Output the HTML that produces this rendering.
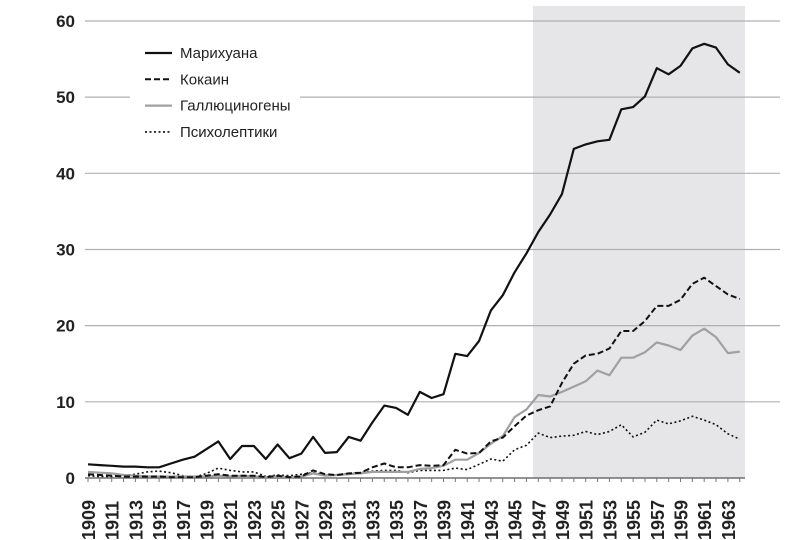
<!DOCTYPE html>
<html><head><meta charset="utf-8"><style>
body{margin:0;background:#fff;}
svg{display:block;font-family:"Liberation Sans",sans-serif;}
</style></head><body>
<svg id="chart" width="800" height="540" viewBox="0 0 800 540"></svg>
<script>
const years=[];for(let y=1909;y<=1964;y++)years.push(y);
const marijuana=[1.8,1.7,1.6,1.5,1.5,1.4,1.4,1.9,2.4,2.8,3.8,4.8,2.5,4.2,4.2,2.5,4.4,2.6,3.2,5.4,3.3,3.4,5.4,4.9,7.3,9.5,9.2,8.3,11.3,10.5,11,16.3,16,18,22,24,27,29.5,32.3,34.6,37.3,43.2,43.8,44.2,44.4,48.4,48.7,50.1,53.8,53,54.1,56.4,57,56.5,54.3,53.2];
const cocaine=[0.5,0.4,0.3,0.2,0.2,0.2,0.2,0.1,0.1,0.1,0.3,0.5,0.3,0.3,0.3,0.1,0.3,0.1,0.2,1,0.5,0.4,0.6,0.7,1.4,1.9,1.4,1.4,1.7,1.6,1.7,3.7,3.2,3.3,4.8,5.3,6.8,8.2,8.9,9.4,12.5,15,16.1,16.3,17,19.3,19.3,20.6,22.6,22.6,23.4,25.5,26.3,25.2,24.1,23.5];
const hallucinogens=[0.8,0.7,0.6,0.4,0.3,0.2,0.2,0.2,0.2,0.2,0.2,0.3,0.2,0.3,0.2,0.1,0.2,0.1,0.2,0.6,0.3,0.4,0.5,0.6,0.8,0.8,0.8,0.8,1.2,1.3,1.6,2.4,2.4,3.3,4.5,5.5,8,9,10.9,10.7,11.3,12,12.7,14.1,13.5,15.8,15.8,16.5,17.8,17.4,16.8,18.7,19.6,18.5,16.4,16.6];
const psycholeptics=[0.3,0.2,0.2,0.3,0.5,0.8,0.9,0.7,0.3,0.1,0.6,1.3,1.0,0.8,0.8,0.2,0.4,0.3,0.5,0.7,0.4,0.4,0.6,0.7,0.9,1.0,1.0,0.7,1.0,1.0,1.0,1.3,1.1,1.8,2.5,2.2,3.7,4.3,5.9,5.3,5.5,5.6,6.1,5.7,6.1,7,5.4,6,7.6,7.1,7.5,8.1,7.6,7,5.8,5.1];
const yTicks=[0,10,20,30,40,50,60];
const shadeStartYear=1946.55;
const seriesNames=["Марихуана","Кокаин","Галлюциногены","Психолептики"];

const NS="http://www.w3.org/2000/svg";
const svg=document.getElementById('chart');
const X=y=>88+(y-1909)*11.85;
const Y=v=>478-v*7.617;
function mk(t,a,p){const e=document.createElementNS(NS,t);for(const k in a)e.setAttribute(k,a[k]);(p||svg).appendChild(e);return e;}

const shade=mk('rect',{x:X(shadeStartYear),y:6,width:745-X(shadeStartYear),height:472,fill:'#e6e6e8'});



yTicks.forEach(v=>{
  if(v>0){const g=mk('line',{x1:85,x2:780,y1:Y(v),y2:Y(v),stroke:'#b0b0b0','stroke-width':1.2});
  
  }
  const t=mk('text',{x:75,y:Y(v)+6,'text-anchor':'end','font-size':17,'font-weight':'bold',fill:'#222'});
  t.textContent=v;
  
  
});

const ax=mk('line',{x1:85,x2:745,y1:478,y2:478,stroke:'#555','stroke-width':1.3});


years.forEach((yr,i)=>{
  mk('line',{x1:X(yr),x2:X(yr),y1:478,y2:482,stroke:'#777','stroke-width':1});
  if((yr-1909)%2===0){
    const t=mk('text',{transform:`translate(${X(yr)+7},540) rotate(-90)`,'font-size':18,'font-weight':'bold',fill:'#222'});
    t.textContent=yr;
    
    
  }
});

const styles=[
 {stroke:'#111',dash:'',w:2.2},
 {stroke:'#111',dash:'6,3',w:2},
 {stroke:'#a0a0a0',dash:'',w:2.2},
 {stroke:'#111',dash:'2,2.5',w:1.6}];
const data=[marijuana,cocaine,hallucinogens,psycholeptics];
const keys=['marijuana-line','cocaine-line','hallucinogens-line','psycholeptics-line'];
[3,2,1,0].forEach(s=>{
  const d=data[s].map((v,i)=>(i?'L':'M')+X(years[i]).toFixed(1)+','+Y(v).toFixed(1)).join('');
  const p=mk('path',{d:d,fill:'none',stroke:styles[s].stroke,'stroke-width':styles[s].w,'stroke-dasharray':styles[s].dash,'stroke-linejoin':'round'});
  
  
});

const lg=mk('g',{});


mk('rect',{x:130,y:36,width:170,height:112,fill:'#fff'},lg);
seriesNames.forEach((n,i)=>{
  const yy=53+i*26.3;
  const e=mk('g',{},lg);
  
  
  mk('line',{x1:145,x2:172,y1:yy,y2:yy,stroke:styles[i].stroke,'stroke-width':styles[i].w,'stroke-dasharray':styles[i].dash},e);
  const t=mk('text',{x:180,y:yy+5,'font-size':15,fill:'#222'},e);
  t.textContent=n;
});
</script>
</body></html>
